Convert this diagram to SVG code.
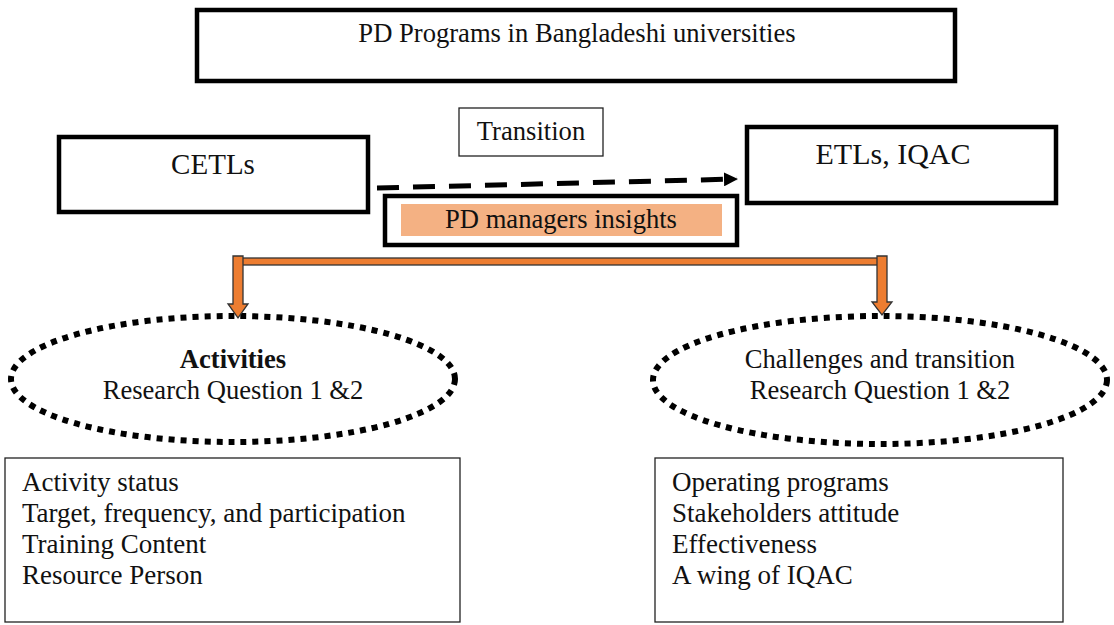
<svg xmlns="http://www.w3.org/2000/svg" width="1114" height="625" viewBox="0 0 1114 625">
<defs>
<style>
text{font-family:"Liberation Serif","Times New Roman",serif;fill:#111;font-size:26.6px}
.thick{fill:#fff;stroke:#000;stroke-width:4.5}
.thin{fill:#fff;stroke:#222;stroke-width:1.3}
.dots{fill:none;stroke:#000;stroke-width:6;stroke-dasharray:6 6}
.orange{fill:#ED7D31;stroke:#333;stroke-width:1.3}
.c{text-anchor:middle}
.list{font-size:27px}
</style>
<marker id="ah" markerWidth="14" markerHeight="14" refX="13" refY="7" orient="auto" markerUnits="userSpaceOnUse">
<path d="M0,0 L14,7 L0,14 Z" fill="#000"/>
</marker>
</defs>
<rect width="1114" height="625" fill="#fff"/>

<g id="title">
<rect class="thick" x="197" y="10" width="758" height="71"/>
<text class="c" x="577" y="42">PD Programs in Bangladeshi universities</text>
</g>

<g id="transition">
<rect class="thin" x="459" y="108" width="144" height="48"/>
<text class="c" x="531" y="140">Transition</text>
</g>

<g id="cetls">
<rect class="thick" x="59" y="137" width="309" height="75"/>
<text class="c" x="213" y="174" style="font-size:29px">CETLs</text>
</g>

<g id="etls">
<rect class="thick" x="747" y="127" width="309" height="76"/>
<text class="c" x="893" y="164" style="font-size:30px">ETLs, IQAC</text>
</g>

<g id="insights">
<rect class="thick" x="385" y="196" width="352" height="49"/>
<rect x="401" y="204" width="321" height="32" fill="#F4B183"/>
<text class="c" x="561" y="228">PD managers insights</text>
</g>

<g id="activities">
<ellipse class="dots" cx="233" cy="379" rx="222" ry="63"/>
<text class="c" x="233" y="368" font-weight="bold">Activities</text>
<text class="c" x="233" y="399">Research Question 1 &amp;2</text>
</g>

<g id="challenges">
<ellipse class="dots" cx="880" cy="380" rx="227" ry="64"/>
<text class="c" x="880" y="368">Challenges and transition</text>
<text class="c" x="880" y="399">Research Question 1 &amp;2</text>
</g>

<g id="activity-list">
<rect class="thin" x="5" y="458" width="455" height="164"/>
<text class="list" x="22" y="491">Activity status</text>
<text class="list" x="22" y="522">Target, frequency, and participation</text>
<text class="list" x="22" y="553">Training Content</text>
<text class="list" x="22" y="584">Resource Person</text>
</g>

<g id="challenge-list">
<rect class="thin" x="655" y="458" width="408" height="164"/>
<text class="list" x="672" y="491">Operating programs</text>
<text class="list" x="672" y="522">Stakeholders attitude</text>
<text class="list" x="672" y="553">Effectiveness</text>
<text class="list" x="672" y="584">A wing of IQAC</text>
</g>

<g id="connectors">
<path d="M377,188 L737,179" fill="none" stroke="#000" stroke-width="5" stroke-dasharray="22 14" marker-end="url(#ah)"/>
<rect class="orange" x="240" y="258" width="640" height="7"/>
<path class="orange" d="M233,256 L243,256 L243,304 L248,304 L238,318 L228,304 L233,304 Z"/>
<path class="orange" d="M877,256 L887,256 L887,302 L892,302 L882,315 L872,302 L877,302 Z"/>
</g>
</svg>
